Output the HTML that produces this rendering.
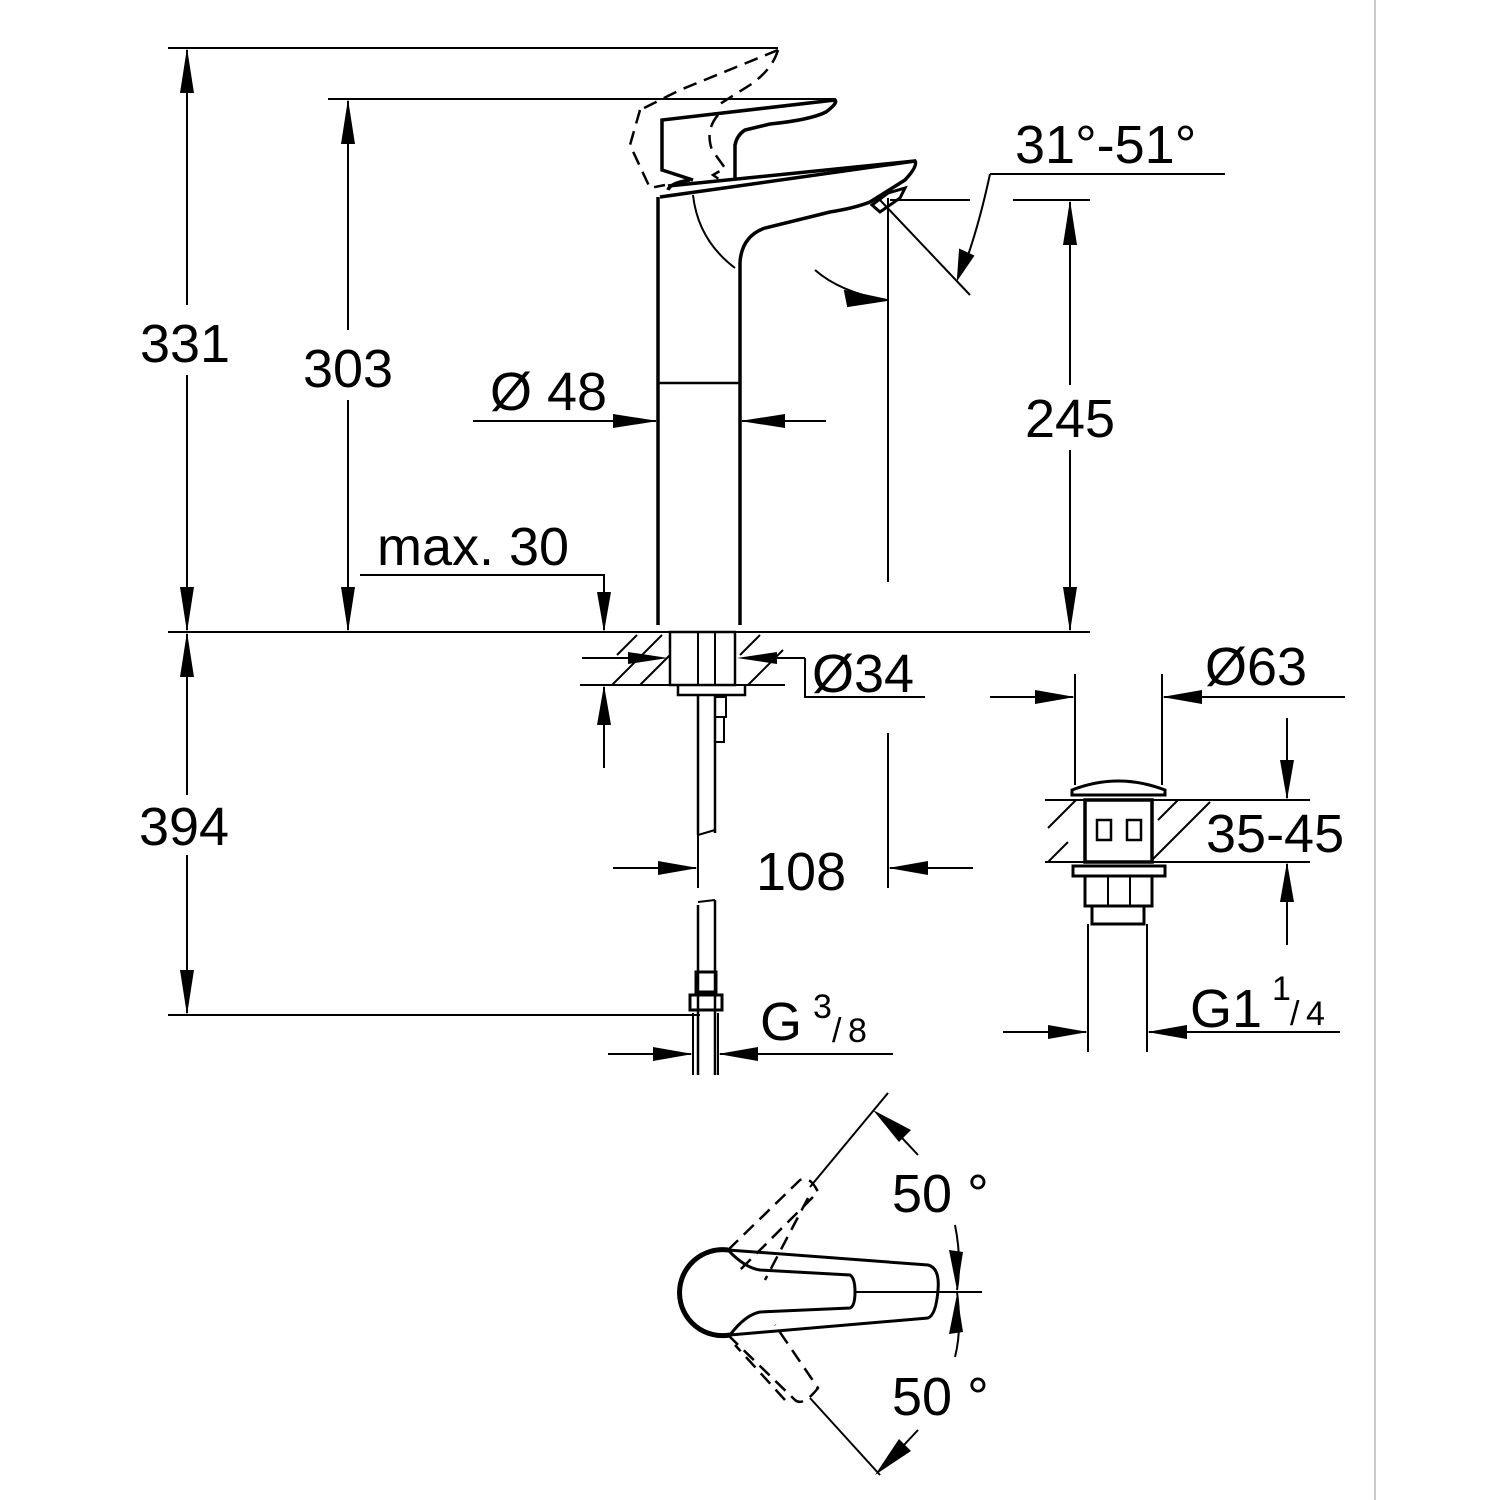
<!DOCTYPE html>
<html><head><meta charset="utf-8"><style>
html,body{margin:0;padding:0;background:#fff}
svg{display:block}
text{font-family:"Liberation Sans",sans-serif;fill:#000}
</style></head><body>
<svg width="1500" height="1500" viewBox="0 0 1500 1500" xmlns="http://www.w3.org/2000/svg">
<rect width="1500" height="1500" fill="#fff"/>
<line x1="1375" y1="0" x2="1375" y2="1500" stroke="#bbb" stroke-width="1.5"/>
<g stroke="#000" stroke-width="2" fill="none">
<line x1="168" y1="48" x2="778" y2="48"/>
<line x1="328" y1="99" x2="835" y2="99"/>
<line x1="168" y1="632" x2="1090" y2="632"/>
<line x1="168" y1="1015" x2="700" y2="1015"/>
<line x1="1013" y1="200" x2="1090" y2="200"/>
<line x1="890" y1="200" x2="970" y2="200"/>
<line x1="187" y1="50" x2="187" y2="305"/>
<line x1="187" y1="375" x2="187" y2="630"/>
<path d="M187,48l-7,45h14z M187,632l-7,-45h14z" fill="#000" stroke="none"/>
<line x1="187" y1="634" x2="187" y2="795"/>
<line x1="187" y1="855" x2="187" y2="1013"/>
<path d="M187,632l-7,45h14z M187,1015l-7,-45h14z" fill="#000" stroke="none"/>
<line x1="348" y1="101" x2="348" y2="330"/>
<line x1="348" y1="400" x2="348" y2="630"/>
<path d="M348,99l-7,45h14z M348,632l-7,-45h14z" fill="#000" stroke="none"/>
<line x1="1070" y1="202" x2="1070" y2="385"/>
<line x1="1070" y1="450" x2="1070" y2="630"/>
<path d="M1070,200l-7,45h14z M1070,632l-7,-45h14z" fill="#000" stroke="none"/>
<polyline points="360,575 604,575 604,630"/>
<path d="M604,632l-7,-40h14z" fill="#000" stroke="none"/>
<line x1="604" y1="687" x2="604" y2="768"/>
<path d="M604,685l-7,40h14z" fill="#000" stroke="none"/>
<line x1="473" y1="421" x2="656" y2="421"/>
<line x1="742" y1="421" x2="826" y2="421"/>
<path d="M658,421l-45,-7v14z M740,421l45,-7v14z" fill="#000" stroke="none"/>
<g stroke-width="3.5">
<line x1="658" y1="197" x2="658" y2="625"/>
<line x1="740" y1="262" x2="740" y2="625"/>
<path d="M660,197 L915,161 Q918,166 905,180 L870,202 Q855,208 830,212 L765,228 Q742,236 740,262"/>
<path d="M668,186 L915,161"/>
<path d="M662,141 L662,120 L835,100 Q838,103 826,112 Q810,120 770,124 L745,130 Q737,135 735,145 L735,180"/>
<path d="M662,141 L662,170 L693,180"/>
<path d="M690,180 Q670,183 668,190"/>
</g>
<line x1="658" y1="383" x2="740" y2="383" stroke-width="2.5"/>
<path d="M693,195 Q698,240 735,268"/>
<path d="M872,205 L888,193 L905,188 L900,198 L880,212 Z" stroke-width="3"/>
<path d="M778,50 Q772,70 750,85 L715,107 M778,50 L680,90 L640,110 M640,110 L630,145 L650,188 L665,185 M718,115 Q705,130 712,150 L725,168 L713,175 L723,182" stroke-dasharray="14,8" stroke-width="2.5"/>
<line x1="888" y1="198" x2="888" y2="582"/>
<line x1="880" y1="200" x2="970" y2="295"/>
<line x1="990" y1="174" x2="1225" y2="174"/>
<path d="M990,174 Q978,230 962,272"/>
<path d="M958,278 l2,-28 l13,6z" fill="#000"/>
<path d="M815,270 Q840,292 885,300"/>
<path d="M887,300 l-42,-9 l3,15z" fill="#000"/>
<line x1="612" y1="632" x2="785" y2="632"/>
<line x1="580" y1="685" x2="785" y2="685"/>
<line x1="582" y1="658" x2="628" y2="658"/>
<line x1="777" y1="658" x2="805" y2="658"/>
<rect x="670" y="632" width="65" height="53" stroke-width="2.5"/>
<line x1="698" y1="632" x2="698" y2="685"/>
<line x1="715" y1="632" x2="715" y2="685"/>
<path d="M617,655l20,-20 M612,685l50,-50 M640,685l30,-30 M740,655l20,-20 M748,685l35,-35" />
<path d="M668,658l-40,-6v12z M737,658l40,-6v12z" fill="#000" stroke="none"/>
<polyline points="805,658 805,697 925,697"/>
<path d="M678,685 L678,695 L745,695 L745,685" stroke-width="2.5"/>
<path d="M698,695 L698,835 M715,695 L715,833" stroke-width="2.5"/>
<path d="M716,697 h10 v20 h-10 M716,717 h8 v25 h-8"/>
<line x1="698" y1="835" x2="715" y2="830"/>
<path d="M698,905 L698,1075 M715,900 L715,1075" stroke-width="2.5"/>
<line x1="698" y1="902" x2="715" y2="900"/>
<path d="M696,972 h20 v20 h-20z M690,995 h32 v15 h-32z" stroke-width="3"/>
<line x1="693" y1="1013" x2="693" y2="1075"/>
<line x1="718" y1="1013" x2="718" y2="1075"/>
<line x1="613" y1="868" x2="696" y2="868"/>
<line x1="698" y1="835" x2="698" y2="888"/>
<line x1="888" y1="733" x2="888" y2="888"/>
<line x1="890" y1="868" x2="973" y2="868"/>
<path d="M698,868l-40,-7v14z M888,868l40,-7v14z" fill="#000" stroke="none"/>
<line x1="608" y1="1054" x2="691" y2="1054"/>
<line x1="720" y1="1054" x2="893" y2="1054"/>
<path d="M693,1054l-40,-7v14z M718,1054l40,-7v14z" fill="#000" stroke="none"/>
<line x1="1075" y1="674" x2="1075" y2="785"/>
<line x1="1162" y1="674" x2="1162" y2="785"/>
<line x1="990" y1="697" x2="1073" y2="697"/>
<line x1="1164" y1="697" x2="1345" y2="697"/>
<path d="M1075,697l-40,-7v14z M1162,697l40,-7v14z" fill="#000" stroke="none"/>
<path d="M1072,790 Q1118,772 1165,790 L1165,795 L1072,795Z" stroke-width="3"/>
<line x1="1045" y1="800" x2="1310" y2="800"/>
<line x1="1045" y1="862" x2="1310" y2="862"/>
<path d="M1048,828 l28,-28 M1048,862 l20,-20 M1158,820 l20,-20 M1150,862 l60,-60" />
<rect x="1085" y="800" width="67" height="62" stroke-width="3.5"/>
<path d="M1097,820 h14 v20 h-14z M1127,820 h14 v20 h-14z" stroke-width="2.5"/>
<path d="M1073,866 h92 v10 h-92z M1085,876 h67 v30 h-67z M1092,906 h52 v18 h-52z" stroke-width="3"/>
<line x1="1108" y1="876" x2="1108" y2="906"/>
<line x1="1130" y1="876" x2="1130" y2="906"/>
<line x1="1088" y1="924" x2="1088" y2="1052"/>
<line x1="1147" y1="924" x2="1147" y2="1052"/>
<line x1="1287" y1="718" x2="1287" y2="798"/>
<line x1="1287" y1="864" x2="1287" y2="945"/>
<path d="M1287,800l-7,-40h14z M1287,862l-7,40h14z" fill="#000" stroke="none"/>
<line x1="1003" y1="1032" x2="1086" y2="1032"/>
<line x1="1149" y1="1032" x2="1340" y2="1032"/>
<path d="M1088,1032l-40,-7v14z M1147,1032l40,-7v14z" fill="#000" stroke="none"/>
<!-- top view -->
<path d="M728,1250 A43,43 0 1 0 730,1335" stroke-width="5"/>
<path d="M728,1250 L928,1265 Q940,1268 938,1290 Q936,1315 928,1318 L730,1335" stroke-width="3"/>
<path d="M728,1250 Q745,1268 760,1270 L850,1275 Q855,1278 855,1292 Q855,1306 850,1308 L760,1312 Q745,1315 730,1335" stroke-width="3"/>
<line x1="855" y1="1292" x2="982" y2="1292"/>
<line x1="810" y1="1187" x2="888" y2="1093"/>
<line x1="810" y1="1398" x2="880" y2="1475"/>
<path d="M728,1250 L800,1180 Q810,1175 818,1192 L740,1270 M808,1198 L765,1280 M728,1335 L795,1400 Q803,1407 818,1388 L775,1325 M785,1400 L735,1345" stroke-dasharray="14,8" stroke-width="2.5"/>
<path d="M918,1155 L890,1125 M955,1225 Q962,1260 957,1290 M957,1292 Q962,1330 955,1357 M918,1430 L890,1460"/>
<path d="M873,1110 l38,20 l-12,12z M875,1475 l24,-36 l12,12z M957,1290 l-8,-40 l14,2z M957,1294 l-8,40 l14,-2z" fill="#000" stroke="none"/>
</g>
<g font-size="54">
<text x="185" y="362" text-anchor="middle">331</text>
<text x="348" y="387" text-anchor="middle">303</text>
<text x="184" y="845" text-anchor="middle">394</text>
<text x="1070" y="437" text-anchor="middle">245</text>
<text x="490" y="410">Ø 48</text>
<text x="377" y="565">max. 30</text>
<text x="812" y="692">Ø34</text>
<text x="1205" y="685">Ø63</text>
<text x="1206" y="852">35-45</text>
<text x="756" y="890">108</text>
<text x="1015" y="163">31°-51°</text>
<text x="760" y="1040">G</text>
<text x="1190" y="1027">G1</text>
<text x="892" y="1212">50 °</text>
<text x="892" y="1415">50 °</text>
</g>
<g font-size="34">
<text x="813" y="1018">3</text><text x="832" y="1042">/</text><text x="848" y="1042">8</text>
<text x="1272" y="1000">1</text><text x="1290" y="1025">/</text><text x="1306" y="1025">4</text>
</g>
</svg>
</body></html>
